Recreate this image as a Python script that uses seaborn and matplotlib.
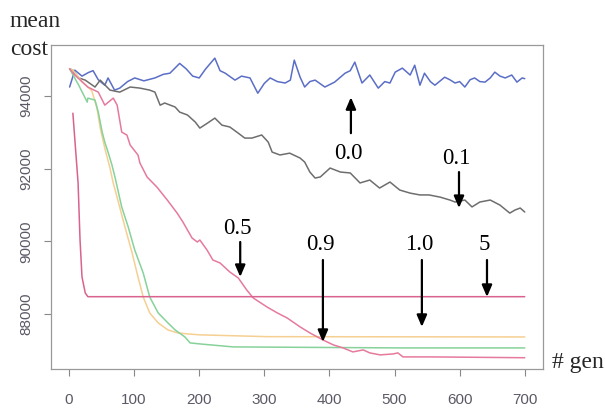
import matplotlib
matplotlib.use("Agg")
import matplotlib.pyplot as plt
import seaborn as sns

# mean cost per generation
gen_00 = [1, 9, 20, 30, 37, 45, 55, 60, 70, 78, 90, 101, 115, 132, 145, 155, 170, 180, 190, 200,
          210, 224, 232, 240, 255, 265, 278, 290, 300, 309, 320, 332, 340, 346, 355, 362, 370, 378,
          393, 408, 424, 432, 439, 450, 462, 475, 485, 493, 501, 512, 524, 531, 539, 546, 555, 562,
          577, 585, 593, 600, 608, 616, 623, 631, 639, 647, 654, 662, 670, 680, 688, 696, 700]
cost_00 = [94250, 94715, 94550, 94650, 94700, 94450, 94300, 94500, 94165, 94220, 94400, 94500, 94420,
           94500, 94600, 94630, 94900, 94750, 94550, 94500, 94750, 95045, 94700, 94630, 94440, 94550,
           94500, 94080, 94350, 94500, 94400, 94360, 94440, 94990, 94520, 94250, 94400, 94440, 94250,
           94385, 94630, 94700, 94935, 94360, 94580, 94220, 94400, 94360, 94660, 94770, 94580, 94850,
           94300, 94630, 94400, 94300, 94520, 94450, 94360, 94400, 94250, 94450, 94500, 94400, 94385,
           94500, 94660, 94550, 94500, 94580, 94385, 94500, 94480]

gen_01 = [1, 6, 15, 25, 40, 48, 63, 78, 94, 109, 124, 132, 140, 147, 163, 170, 182, 194, 201, 213,
          224, 235, 247, 260, 270, 281, 296, 306, 312, 324, 339, 355, 362, 370, 378, 386, 401, 417,
          432, 447, 462, 477, 493, 508, 524, 539, 553, 570, 585, 593, 608, 619, 631, 647, 662, 677,
          685, 693, 700]
cost_01 = [94750, 94715, 94500, 94440, 94250, 94440, 94165, 94110, 94250, 94220, 94165, 94110, 93750,
           93810, 93700, 93560, 93480, 93285, 93120, 93260, 93395, 93200, 93150, 92980, 92845, 92845,
           92930, 92735, 92460, 92380, 92430, 92295, 92185, 91910, 91745, 91775, 92020, 91910, 91885,
           91610, 91690, 91470, 91635, 91415, 91330, 91280, 91280, 91220, 91140, 91085, 91140, 90950,
           91085, 91140, 91000, 90780, 90865, 90920, 90810]

gen_05 = [1, 9, 29, 45, 55, 68, 74, 81, 89, 94, 106, 109, 120, 135, 151, 166, 175, 189, 197, 201,
          212, 221, 232, 247, 260, 273, 283, 304, 320, 335, 355, 370, 390, 406, 421, 436, 452, 462,
          478, 498, 505, 513, 555, 700]
cost_05 = [94750, 94578, 94248, 94110, 93752, 93945, 93752, 93010, 92928, 92653, 92378, 92158, 91773,
           91498, 91140, 90783, 90535, 90095, 89985, 90040, 89765, 89490, 89408, 89160, 88995, 88665,
           88445, 88198, 88033, 87895, 87648, 87483, 87290, 87153, 87070, 86960, 87015, 86933, 86878,
           86905, 86933, 86823, 86823, 86800]

gen_09 = [1, 6, 20, 35, 43, 48, 55, 63, 68, 75, 86, 97, 106, 114, 124, 137, 152, 167, 186, 201, 304, 700]
cost_09 = [94750, 94715, 94400, 94150, 93670, 93120, 92570, 92020, 91608, 91140, 90398, 89683, 89023,
           88473, 88033, 87758, 87565, 87483, 87450, 87430, 87380, 87372]

gen_10 = [1, 15, 28, 29, 40, 45, 51, 55, 60, 66, 71, 81, 91, 101, 114, 124, 137, 152, 163, 178, 186,
          201, 252, 508, 700]
cost_10 = [94750, 94300, 93835, 93945, 93890, 93560, 93010, 92735, 92460, 92103, 91745, 90948, 90398,
           89765, 89133, 88473, 88033, 87758, 87565, 87373, 87208, 87180, 87098, 87070, 87070]

gen_5 = [6, 14, 17, 20, 25, 29, 700]
cost_5 = [93530, 91608, 90040, 89023, 88583, 88480, 88480]

x_ticks = [0, 100, 200, 300, 400, 500, 600, 700]
y_ticks = [88000, 90000, 92000, 94000]

# label, arrow x, arrow tip y, arrow tail y, text y
notes = [
    ("0.0", 433, 93970, 92980, 92430),
    ("0.1", 599, 90920, 91910, 92295),
    ("0.5", 263, 89023, 89985, 90370),
    ("0.9", 390, 87235, 89490, 89903),
    ("1.0", 542, 87648, 89490, 89903),
    ("5", 642, 88473, 89490, 89903),
]

sns.set_style("white")
plt.rcParams["font.family"] = ["Liberation Sans", "DejaVu Sans"]

fig = plt.figure(figsize=(6.05, 4.11), dpi=100)
ax = fig.add_axes([0.0843, 0.1022, 0.8132, 0.788])

series = [
    (gen_00, cost_00, "#5b6ec6"),
    (gen_01, cost_01, "#6e6e6e"),
    (gen_09, cost_09, "#f6cf92"),
    (gen_10, cost_10, "#86d29a"),
    (gen_05, cost_05, "#e67a9c"),
    (gen_5, cost_5, "#d9638e"),
]
for g, c, col in series:
    sns.lineplot(x=g, y=c, ax=ax, color=col, linewidth=1.1)

ax.set_xlim(-27.6, 728)
ax.set_ylim(86490, 95403)
ax.set_xticks(x_ticks)
ax.set_yticks(y_ticks)
ax.set_yticklabels([str(v) for v in y_ticks], rotation=90, va="center")
ax.tick_params(axis="both", direction="out", length=5, width=0.8, color="#888888",
               labelcolor="#5a5a66", labelsize=11)
ax.tick_params(axis="x", pad=12)
ax.tick_params(axis="y", pad=8)
ax.tick_params(bottom=True, left=True)
for sp in ax.spines.values():
    sp.set_color("#999999")
    sp.set_linewidth(0.9)

for label, gx, tip, tail, ty in notes:
    ax.annotate("", xy=(gx, tip), xytext=(gx, tail),
                arrowprops=dict(arrowstyle="-|>,head_length=0.7,head_width=0.3",
                                color="black", lw=1.6, shrinkA=0, shrinkB=0))
    ax.text(gx - 4, ty, label, ha="center", va="center", fontsize=16.5,
            family="Liberation Serif", color="black")

fig.text(0.0165, 0.934, "mean", fontsize=17, family="Liberation Serif", va="baseline")
fig.text(0.0165, 0.866, "cost", fontsize=17, family="Liberation Serif", va="baseline")
fig.text(0.912, 0.105, "# gen", fontsize=17, family="Liberation Serif", va="baseline")

fig.savefig("out.png", dpi=100)
